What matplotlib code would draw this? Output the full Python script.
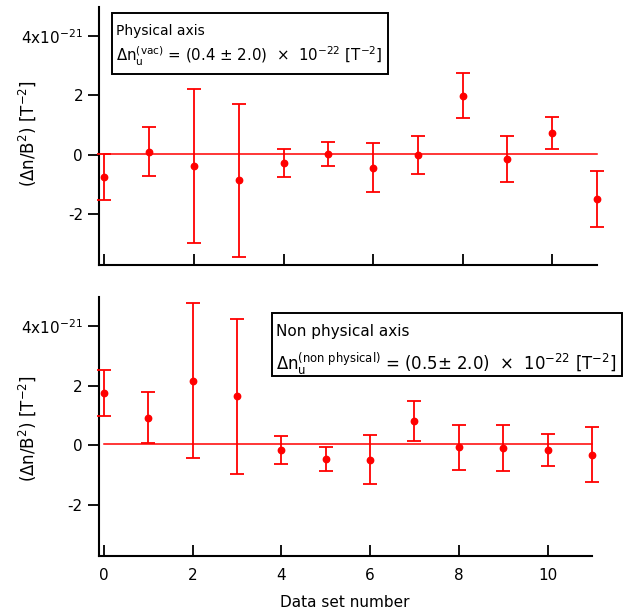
import matplotlib
matplotlib.use("Agg")
import matplotlib.pyplot as plt
from matplotlib.patches import Rectangle

# ---- data (values in units of 1e-21 T^-2) ----
x_sets = list(range(12))
phys_val = [-0.74, 0.10, -0.38, -0.86, -0.27, 0.02, -0.43, -0.01, 1.99, -0.15, 0.73, -1.49]
phys_err = [0.77, 0.83, 2.60, 2.58, 0.47, 0.40, 0.82, 0.65, 0.75, 0.78, 0.54, 0.93]
nonphys_val = [1.75, 0.93, 2.17, 1.64, -0.15, -0.46, -0.49, 0.80, -0.07, -0.09, -0.16, -0.31]
nonphys_err = [0.78, 0.84, 2.59, 2.60, 0.47, 0.40, 0.82, 0.67, 0.75, 0.77, 0.54, 0.92]
fit_x = [0, 11]
phys_fit = 0.04
nonphys_fit = 0.05

ytick_vals = [-2, 0, 2, 4]
ytick_labels = ["-2", "0", "2", r"4x10$^{-21}$"]
xtick_vals = [0, 2, 4, 6, 8, 10]
xtick_labels = ["0", "2", "4", "6", "8", "10"]

ylabel = r"($\Delta$n/B$^{2}$) [T$^{-2}$]"
xlabel = "Data set number"
box1_l1 = "Physical axis"
box1_l2 = r"$\Delta$n$_{\mathrm{u}}^{\mathrm{(vac)}}$ = (0.4 $\pm$ 2.0)  $\times$  10$^{-22}$ [T$^{-2}$]"
box2_l1 = "Non physical axis"
box2_l2 = r"$\Delta$n$_{\mathrm{u}}^{\mathrm{(non\ physical)}}$ = (0.5$\pm$ 2.0)  $\times$  10$^{-22}$ [T$^{-2}$]"

plt.rcParams['font.family'] = ['DejaVu Sans']
plt.rcParams['mathtext.default'] = 'regular'

W, H = 636, 616
fig = plt.figure(figsize=(W / 100, H / 100), dpi=100)

RED = '#ff0000'


def make_ax(left, right, top, bottom, vals, errs, fit, show_xlabels, label_y):
    ax = fig.add_axes([left / W, 1 - bottom / H, (right - left) / W, (bottom - top) / H])
    ax.set_xlim(-0.12, 11.0)
    ax.set_ylim(-3.71, 4.97)
    ax.plot(fit_x, [fit, fit], color=RED, lw=1.1, clip_on=False, zorder=2)
    cont = ax.errorbar(x_sets, vals, yerr=errs, fmt='o', color=RED, ms=4.6,
                       capsize=5, elinewidth=1.3, capthick=1.3, zorder=3)
    for art in cont.get_children():
        art.set_clip_on(False)
    for s in ['top', 'right']:
        ax.spines[s].set_visible(False)
    for s in ['left', 'bottom']:
        ax.spines[s].set_linewidth(1.5)
    ax.set_yticks(ytick_vals)
    ax.set_yticklabels(ytick_labels)
    ax.set_xticks(xtick_vals)
    ax.set_xticklabels(xtick_labels)
    ax.tick_params(axis='x', direction='in', length=8, width=1.3, pad=9, labelsize=11,
                   labelbottom=show_xlabels)
    ax.tick_params(axis='y', direction='out', length=8, width=1.3, pad=3.5, labelsize=11)
    ax.set_ylabel(ylabel, fontsize=12)
    ax.yaxis.set_label_coords(-0.123, label_y)
    return ax


ax1 = make_ax(99, 597, 7, 265, phys_val, phys_err, phys_fit, False, 0.51)
ax2 = make_ax(98.5, 592, 297, 556, nonphys_val, nonphys_err, nonphys_fit, True, 0.49)
ax2.set_xlabel(xlabel, fontsize=11, labelpad=8)


def add_box(x0, y0, x1, y1, l1, l2, l1_base, l2_base, fs1, fs2):
    fig.patches.append(Rectangle((x0 / W, 1 - y1 / H), (x1 - x0) / W, (y1 - y0) / H,
                                 transform=fig.transFigure, fill=True, facecolor='white',
                                 edgecolor='black', lw=1.4, zorder=5))
    fig.text((x0 + 4) / W, 1 - l1_base / H, l1, fontsize=fs1, ha='left', va='baseline', zorder=6)
    fig.text((x0 + 4) / W, 1 - l2_base / H, l2, fontsize=fs2, ha='left', va='baseline', zorder=6)


add_box(112, 13, 388, 74, box1_l1, box1_l2, 35, 62, 10, 10.8)
add_box(272, 313, 622, 376, box2_l1, box2_l2, 336, 370, 11, 11.9)

fig.savefig('out.png', dpi=100)
